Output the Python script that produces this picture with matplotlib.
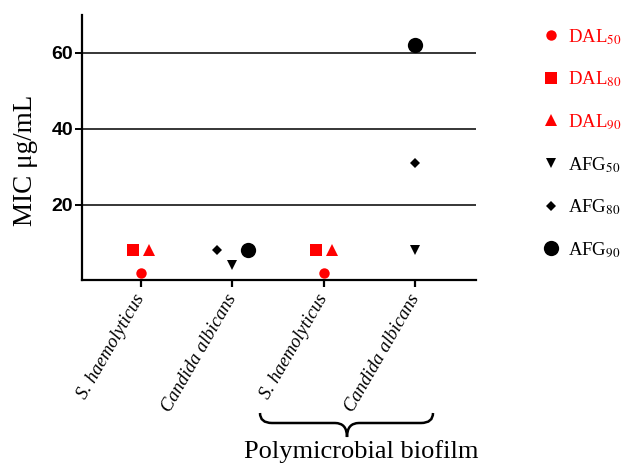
import matplotlib
matplotlib.use("Agg")
import matplotlib.pyplot as plt
from matplotlib.path import Path
from matplotlib.patches import PathPatch
import numpy as np

plt.rcParams['mathtext.fontset'] = 'stix'

# ---- data ----
categories = ['S. haemolyticus', 'Candida albicans', 'S. haemolyticus', 'Candida albicans']
series_names = ['DAL$_{50}$', 'DAL$_{80}$', 'DAL$_{90}$', 'AFG$_{50}$', 'AFG$_{80}$', 'AFG$_{90}$']
DAL50 = [2, np.nan, 2, np.nan]
DAL80 = [8, np.nan, 8, np.nan]
DAL90 = [8, np.nan, 8, np.nan]
AFG50 = [np.nan, 4, np.nan, 8]
AFG80 = [np.nan, 8, np.nan, 31]
AFG90 = [np.nan, 8, np.nan, 62]
yticks = [20, 40, 60]
group_label = 'Polymicrobial biofilm'

# ---- styles / layout ----
values = [DAL50, DAL80, DAL90, AFG50, AFG80, AFG90]
colors = ['#ff0000', '#ff0000', '#ff0000', 'black', 'black', 'black']
markers = ['o', 's', '^', 'v', 'D', 'o']
msizes = [7.5, 8, 8, 7.5, 5.5, 11]
# horizontal dodge (data units) for overlapping points
dodge = [
    [0, 0, 0, 0],
    [-0.085, 0, -0.085, 0],
    [0.09, 0, 0.09, 0],
    [0, 0, 0, 0],
    [0, -0.17, 0, 0],
    [0, 0.175, 0, 0],
]

W, H = 622, 463
fig = plt.figure(figsize=(W / 100, H / 100), dpi=100)
ax = fig.add_axes([81.7 / W, 1 - 280.3 / H, (475.7 - 81.7) / W, (280.3 - 15) / H])

x = np.arange(len(categories))
handles = []
for vals, c, m, ms, dx, name in zip(values, colors, markers, msizes, dodge, series_names):
    h, = ax.plot(x + np.array(dx), vals, linestyle='none', marker=m, color=c,
                 markersize=ms, markeredgewidth=0, label=name, clip_on=False, zorder=3)
    handles.append(h)

ax.set_xlim(-0.645, 3.66)
ax.set_ylim(0, 70)
for yv in yticks:
    ax.axhline(yv, color='black', lw=1.1, zorder=1)

for s in ['top', 'right']:
    ax.spines[s].set_visible(False)
for s in ['left', 'bottom']:
    ax.spines[s].set_linewidth(1.6)

ax.set_yticks(yticks)
ax.set_yticklabels([str(v) for v in yticks], fontfamily='Liberation Sans',
                   fontweight='bold', fontsize=14)
ax.tick_params(axis='y', length=5, width=1.4, pad=1)
ax.set_xticks(x)
ax.set_xticklabels(categories, rotation=60, ha='right', va='center',
                   rotation_mode='anchor', fontfamily='Liberation Serif',
                   fontstyle='italic', fontsize=13.5)
ax.tick_params(axis='x', length=5, width=1.6, pad=6)

fig.text(26 / W, 1 - 160 / H, 'MIC μg/mL', rotation=90, ha='center', va='center',
         fontfamily='Liberation Serif', fontsize=19.5)

leg = fig.legend(handles=handles, loc='upper left', bbox_to_anchor=(543 / W, 1 - 27 / H),
                 frameon=False, handlelength=0.8, handletextpad=0.55,
                 labelspacing=1.23, borderpad=0, borderaxespad=0,
                 prop={'family': 'Liberation Serif', 'size': 13.5})
for t, c in zip(leg.get_texts(), colors):
    t.set_color(c)

# brace under the polymicrobial group
def px(xp, yp):
    return (xp / W, 1 - yp / H)

verts = [px(260, 413), px(260, 423), px(272, 423),
         px(335, 423),
         px(347, 423), px(347, 437),
         px(347, 423), px(359, 423),
         px(421, 423),
         px(433, 423), px(433, 413)]
codes = [Path.MOVETO, Path.CURVE3, Path.CURVE3,
         Path.LINETO,
         Path.CURVE3, Path.CURVE3,
         Path.CURVE3, Path.CURVE3,
         Path.LINETO,
         Path.CURVE3, Path.CURVE3]
fig.add_artist(PathPatch(Path(verts, codes), transform=fig.transFigure,
                         facecolor='none', edgecolor='black', lw=1.8))
fig.text(361 / W, 1 - 458 / H, group_label, ha='center', va='baseline',
         fontfamily='Liberation Serif', fontsize=19)

fig.savefig('out.png', dpi=100)
